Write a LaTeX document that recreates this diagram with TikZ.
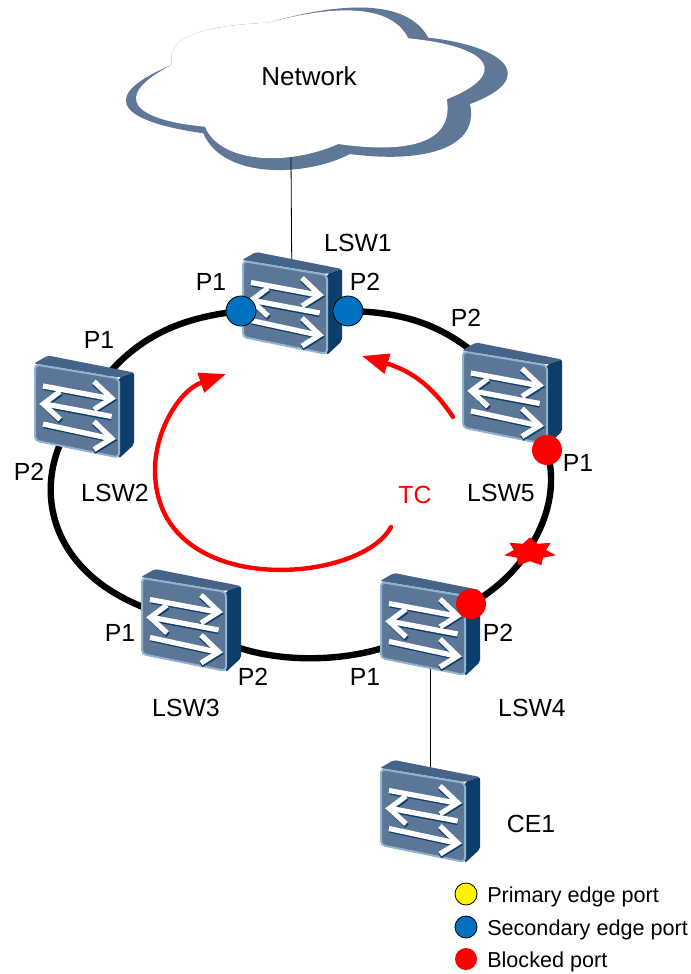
\documentclass[tikz,border=0pt]{standalone}
\usepackage{fontspec}
\setmainfont{Liberation Sans}
\usetikzlibrary{arrows.meta,shapes.geometric}
\definecolor{swfront}{HTML}{5B7696}
\definecolor{swedge}{HTML}{8FB2CE}
\definecolor{swtop}{HTML}{46648A}
\definecolor{swside}{HTML}{0D3D6B}
\definecolor{cloudblue}{HTML}{5F7898}
\definecolor{portblue}{HTML}{0070C0}
\begin{document}
\begin{tikzpicture}[
        x=.75pt,y=-.75pt,
        lbl/.style={font=\fontsize{18.6}{18.6}\selectfont,inner sep=0pt},
        leg/.style={font=\fontsize{16.2}{16.2}\selectfont,inner sep=0pt,anchor=base west},
        swnode/.style={minimum width=75pt,minimum height=77pt,inner sep=0pt},
        ring/.style={line width=4.8pt},
        tcarrow/.style={red,line width=3.3pt,line cap=round,-{Triangle[length=20pt,width=15pt]}},
        bport/.style={circle,draw=black,line width=.6pt,fill=portblue,minimum size=22.5pt,inner sep=0pt},
        rport/.style={circle,fill=red,minimum size=22.5pt,inner sep=0pt},
        legdot/.style={circle,draw=black,line width=.6pt,minimum size=16.5pt,inner sep=0pt},
        swarrow/.style={white,line width=3.9pt},
        swdev/.pic={
            \fill[swtop,rounded corners=1.5pt] (-50,-44) -- (-36,-52) -- (50,-35) -- (35,-30) -- cycle;
            \fill[swside,rounded corners=1.5pt] (35,-30) -- (50,-35) -- (50,37) -- (35,51) -- cycle;
            \draw[swedge,fill=swfront,line width=1.5pt,rounded corners=3pt] (-49,-43) -- (35,-29) -- (35,50) -- (-49,33) -- cycle;
            % shadow first, then the white arrows
            \begin{scope}[swside,line width=3.9pt]
                \draw (-40,-20) -- (27,-7.5);
                \draw (10,-24) -- (28.7,-7.7) -- (10,4);
                \draw (27.7,10.5) -- (-39,-2);
                \draw (-23,-14) -- (-39.7,-2) -- (-23,14);
                \draw (-40,18) -- (27,32.5);
                \draw (10,16) -- (28.7,32.5) -- (10,44);
            \end{scope}
            \draw[swarrow] (-41,-21.5) -- (26,-9);
            \draw[swarrow] (10,-26) -- (27.7,-9.2) -- (10,2);
            \draw[swarrow] (27.7,9) -- (-39,-3.5);
            \draw[swarrow] (-24,-16) -- (-40.7,-3.5) -- (-24,12);
            \draw[swarrow] (-41,16.5) -- (26,31);
            \draw[swarrow] (10,14) -- (27.7,31) -- (10,42);
        }
    ]
    \useasboundingbox (0,0) rectangle (690,974);
    \fill[white] (0,0) rectangle (690,974);

    % cloud
    \fill[cloudblue] (171.7,65) .. controls (168.3,43.3) and (183.3,26.7) .. (268.3,22.7)
        .. controls (330,5) and (405,-5) .. (428.3,37.7)
        .. controls (505,46) and (540,78) .. (470,104)
        .. controls (480,150) and (420,163.3) .. (350,154)
        .. controls (306.7,176.7) and (223.3,180) .. (203.3,133.3)
        .. controls (110,120) and (103,93.3) .. (171.7,65) -- cycle;
    \fill[white] (171.7,65) .. controls (168.3,43.3) and (183.3,26.7) .. (268.3,22.7)
        .. controls (330,6) and (390,2) .. (408.3,38.3)
        .. controls (495,47) and (508,75) .. (446.7,99.3)
        .. controls (453,133) and (426.7,156.7) .. (338.3,144)
        .. controls (286.7,166.7) and (220,163) .. (205,126.7)
        .. controls (133,120) and (110,96.7) .. (171.7,65) -- cycle;
    \node[lbl,font=\fontsize{19.5}{19.5}\selectfont] (network) at (309,76) {Network};
    \coordinate (cloudfoot) at (291,157);

    % switches are placed first as empty nodes so the links can refer to them
    \node[swnode] (lsw1) at (292,304) {};
    \node[swnode] (lsw2) at (84,407.5) {};
    \node[swnode] (lsw3) at (191,621) {};
    \node[swnode] (lsw4) at (430,625) {};
    \node[swnode] (lsw5) at (512,394.5) {};
    \node[swnode] (ce1) at (430,812) {};
    \coordinate (p1lsw1) at (241,311);
    \coordinate (p2lsw1) at (348,311);
    \coordinate (p1lsw5) at (547,450);
    \coordinate (p2lsw4) at (471,604);
    \coordinate (faultpt) at (527,552);

    \draw[line width=.6pt] (cloudfoot) -- (lsw1.center);
    \draw[line width=.6pt] (lsw4.center) -- (ce1.center);
    \draw[ring] (p1lsw1) .. controls (175,318) and (125,340) .. (lsw2.center);
    \draw[ring] (lsw2.center) .. controls (25,470) and (35,590) .. (lsw3.center);
    \draw[ring] (lsw3.center) .. controls (245,672) and (375,668) .. (lsw4.center);
    \draw[ring] (p2lsw4) .. controls (495,590) and (515,572) .. (faultpt);
    \draw[ring] (faultpt) .. controls (545,525) and (558,490) .. (p1lsw5);
    \draw[ring] (p2lsw1) .. controls (400,312) and (460,322) .. (lsw5.center);

    \pic at (lsw1) {swdev};
    \pic at (lsw2) {swdev};
    \pic at (lsw3) {swdev};
    \pic at (lsw4) {swdev};
    \pic at (lsw5) {swdev};
    \pic at (ce1) {swdev};

    \node[bport] (portp1) at (p1lsw1) {};
    \node[bport] (portp2) at (p2lsw1) {};
    \node[rport] (portblka) at (p1lsw5) {};
    \node[rport] (portblkb) at (p2lsw4) {};
    \node[star,star points=7,star point ratio=1.6,fill=red,minimum size=22pt,inner sep=0pt,xscale=1.8] (fault) at (530,552) {};

    % TC flooding
    \node[lbl,red] (tc) at (415,495) {TC};
    \coordinate (tcleft) at (391,527);
    \coordinate (tcleftend) at (226,374);
    \coordinate (tcright) at (453,417);
    \coordinate (tcrightend) at (362,356);
    \draw[tcarrow] (tcleft) .. controls (360,585) and (155,600) .. (155,470)
        .. controls (155,430) and (180,390) .. (tcleftend);
    \draw[tcarrow] (tcright) .. controls (435,390) and (415,372) .. (tcrightend);

    \node[lbl] (lbllsw1) at (358,243) {LSW1};
    \node[lbl] (lbllsw2) at (115,493) {LSW2};
    \node[lbl] (lbllsw3) at (186,708) {LSW3};
    \node[lbl] (lbllsw4) at (532,708) {LSW4};
    \node[lbl] (lbllsw5) at (501,493) {LSW5};
    \node[lbl] (lblce1) at (531,824) {CE1};
    \node[lbl] (lblaa) at (211,282) {P1};
    \node[lbl] (lblab) at (365,282) {P2};
    \node[lbl] (lblba) at (99,340) {P1};
    \node[lbl] (lblbb) at (29,472) {P2};
    \node[lbl] (lblca) at (120,633) {P1};
    \node[lbl] (lblcb) at (253,677) {P2};
    \node[lbl] (lblda) at (365,677) {P1};
    \node[lbl] (lbldb) at (498,633) {P2};
    \node[lbl] (lblea) at (578,463) {P1};
    \node[lbl] (lbleb) at (466,318) {P2};

    % legend
    \node[legdot,fill=yellow] (legp) at (466,894) {};
    \node[legdot,fill=portblue] (legs) at (466,927) {};
    \node[legdot,draw=none,fill=red] (legb) at (466,959) {};
    \node[leg] (legptxt) at (487,902) {Primary edge port};
    \node[leg] (legstxt) at (487,935) {Secondary edge port};
    \node[leg] (legbtxt) at (487,967) {Blocked port};
\end{tikzpicture}
\end{document}
